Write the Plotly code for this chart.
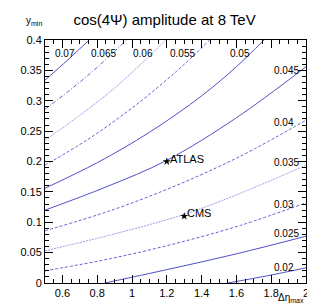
import plotly.graph_objects as go

# ---- data ----
levels = ["0.07", "0.065", "0.06", "0.055", "0.05", "0.045", "0.04", "0.035", "0.03", "0.025", "0.02"]

c070_x = [0.5, 0.63, 0.754]
c070_y = [0.334, 0.367, 0.4]
c065_x = [0.5, 0.65, 0.8, 0.968]
c065_y = [0.286, 0.319, 0.355, 0.4]
c060_x = [0.5, 0.7, 0.9, 1.05, 1.194]
c060_y = [0.235, 0.276, 0.321, 0.36, 0.4]
c055_x = [0.5, 0.75, 1.0, 1.25, 1.447]
c055_y = [0.194, 0.237, 0.288, 0.347, 0.4]
c050_x = [0.5, 0.8, 1.1, 1.4, 1.6, 1.758]
c050_y = [0.156, 0.198, 0.248, 0.308, 0.356, 0.4]
c045_x = [0.5, 0.85, 1.2, 1.6, 2.0]
c045_y = [0.12, 0.158, 0.202, 0.272, 0.356]
c040_x = [0.5, 0.875, 1.25, 1.625, 2.0]
c040_y = [0.086, 0.119, 0.16, 0.209, 0.268]
c035_x = [0.5, 0.875, 1.3, 1.625, 2.0]
c035_y = [0.053, 0.079, 0.113, 0.148, 0.194]
c030_x = [0.5, 0.875, 1.25, 1.625, 2.0]
c030_y = [0.02, 0.04, 0.065, 0.095, 0.132]
c025_x = [0.844, 1.2, 1.6, 2.0]
c025_y = [0.0, 0.022, 0.048, 0.077]
c020_x = [1.55, 1.78, 2.0]
c020_y = [0.0, 0.012, 0.025]

# label anchor positions (data coords, left edge of text)
top_label_x = [0.545, 0.754, 0.996, 1.205, 1.549]
top_label_y = [0.377, 0.377, 0.377, 0.377, 0.377]
right_label_x = [1.803, 1.803, 1.803, 1.803, 1.803, 1.803]
right_label_y = [0.349, 0.264, 0.199, 0.130, 0.082, 0.026]

exp_names = ["ATLAS", "CMS"]
exp_x = [1.2, 1.3]
exp_y = [0.2, 0.11]

x_tickvals = [0.6, 0.8, 1.0, 1.2, 1.4, 1.6, 1.8, 2.0]
x_ticktext = ["0.6", "0.8", "1", "1.2", "1.4", "1.6", "1.8", "2"]
y_tickvals = [0, 0.05, 0.1, 0.15, 0.2, 0.25, 0.3, 0.35, 0.4]
y_ticktext = ["0", "0.05", "0.1", "0.15", "0.2", "0.25", "0.3", "0.35", "0.4"]

# ---- styles ----
C_SOLID = "#5050c8"
C_DASH = "#6060d4"
C_LIGHT = "#9c9ce6"
lines = [
    (c070_x, c070_y, C_SOLID, "solid"),
    (c065_x, c065_y, C_DASH, "4px,2px,1px,2px"),
    (c060_x, c060_y, C_LIGHT, "2px,1px"),
    (c055_x, c055_y, C_DASH, "3px,2px"),
    (c050_x, c050_y, C_SOLID, "solid"),
    (c045_x, c045_y, C_SOLID, "solid"),
    (c040_x, c040_y, C_DASH, "3px,2px"),
    (c035_x, c035_y, C_LIGHT, "2px,1px"),
    (c030_x, c030_y, C_DASH, "3px,2px"),
    (c025_x, c025_y, C_SOLID, "solid"),
    (c020_x, c020_y, C_SOLID, "solid"),
]

FONT = "Liberation Sans, Arial, sans-serif"
fig = go.Figure()
for (xs, ys, col, dash), lev in zip(lines, levels):
    fig.add_trace(go.Scatter(x=xs, y=ys, mode="lines", name=lev,
                             line=dict(color=col, width=1, dash=dash, shape="spline", smoothing=1.0),
                             hoverinfo="skip", showlegend=False))

fig.add_trace(go.Scatter(x=exp_x, y=exp_y, mode="markers",
                         marker=dict(symbol="star", size=6, color="black"),
                         showlegend=False, hoverinfo="skip"))
for nm, ex, ey in zip(exp_names, exp_x, exp_y):
    fig.add_annotation(x=ex, y=ey, text=nm, showarrow=False, xanchor="left", yanchor="middle",
                       xshift=1, yshift=3, font=dict(family=FONT, size=11, color="black"))

for lab, lx, ly in zip(levels[:5], top_label_x, top_label_y):
    fig.add_annotation(x=lx, y=ly, text=lab, showarrow=False, xanchor="left", yanchor="middle",
                       font=dict(family=FONT, size=10, color="black"))
for lab, lx, ly in zip(levels[5:], right_label_x, right_label_y):
    fig.add_annotation(x=lx, y=ly, text=lab, showarrow=False, xanchor="left", yanchor="middle",
                       font=dict(family=FONT, size=10, color="black"))

# axis titles
fig.add_annotation(xref="paper", yref="paper", x=-0.08, y=1.045, xanchor="left", yanchor="bottom",
                   text="y<sub>min</sub>", showarrow=False,
                   font=dict(family=FONT, size=10, color="black"))
fig.add_annotation(xref="paper", yref="paper", x=1.0, y=-0.03, xanchor="right", yanchor="top",
                   text="Δη<sub>max</sub>", showarrow=False,
                   font=dict(family=FONT, size=10, color="black"))

axis_common = dict(showline=True, linecolor="black", linewidth=1, mirror="allticks",
                   ticks="inside", ticklen=8, tickcolor="black", tickwidth=1,
                   showgrid=False, zeroline=False,
                   tickfont=dict(family=FONT, size=11, color="black"))
fig.update_xaxes(range=[0.5, 2.0], tickvals=x_tickvals, ticktext=x_ticktext,
                 minor=dict(ticks="inside", ticklen=4, dtick=0.05, tick0=0, tickcolor="black"),
                 **axis_common)
fig.update_yaxes(range=[0, 0.4], tickvals=y_tickvals, ticktext=y_ticktext,
                 minor=dict(ticks="inside", ticklen=4, dtick=0.01, tick0=0, tickcolor="black"),
                 **axis_common)

fig.update_layout(width=315, height=306,
                  margin=dict(l=32, r=17, t=32, b=31),
                  paper_bgcolor="white", plot_bgcolor="white",
                  title=dict(text="cos(4Ψ) amplitude at 8 TeV", x=0.497, xanchor="center",
                             y=0.962, yanchor="middle",
                             font=dict(family=FONT, size=15, color="black")),
                  font=dict(family=FONT, color="black"))

fig.write_html("out.html")
